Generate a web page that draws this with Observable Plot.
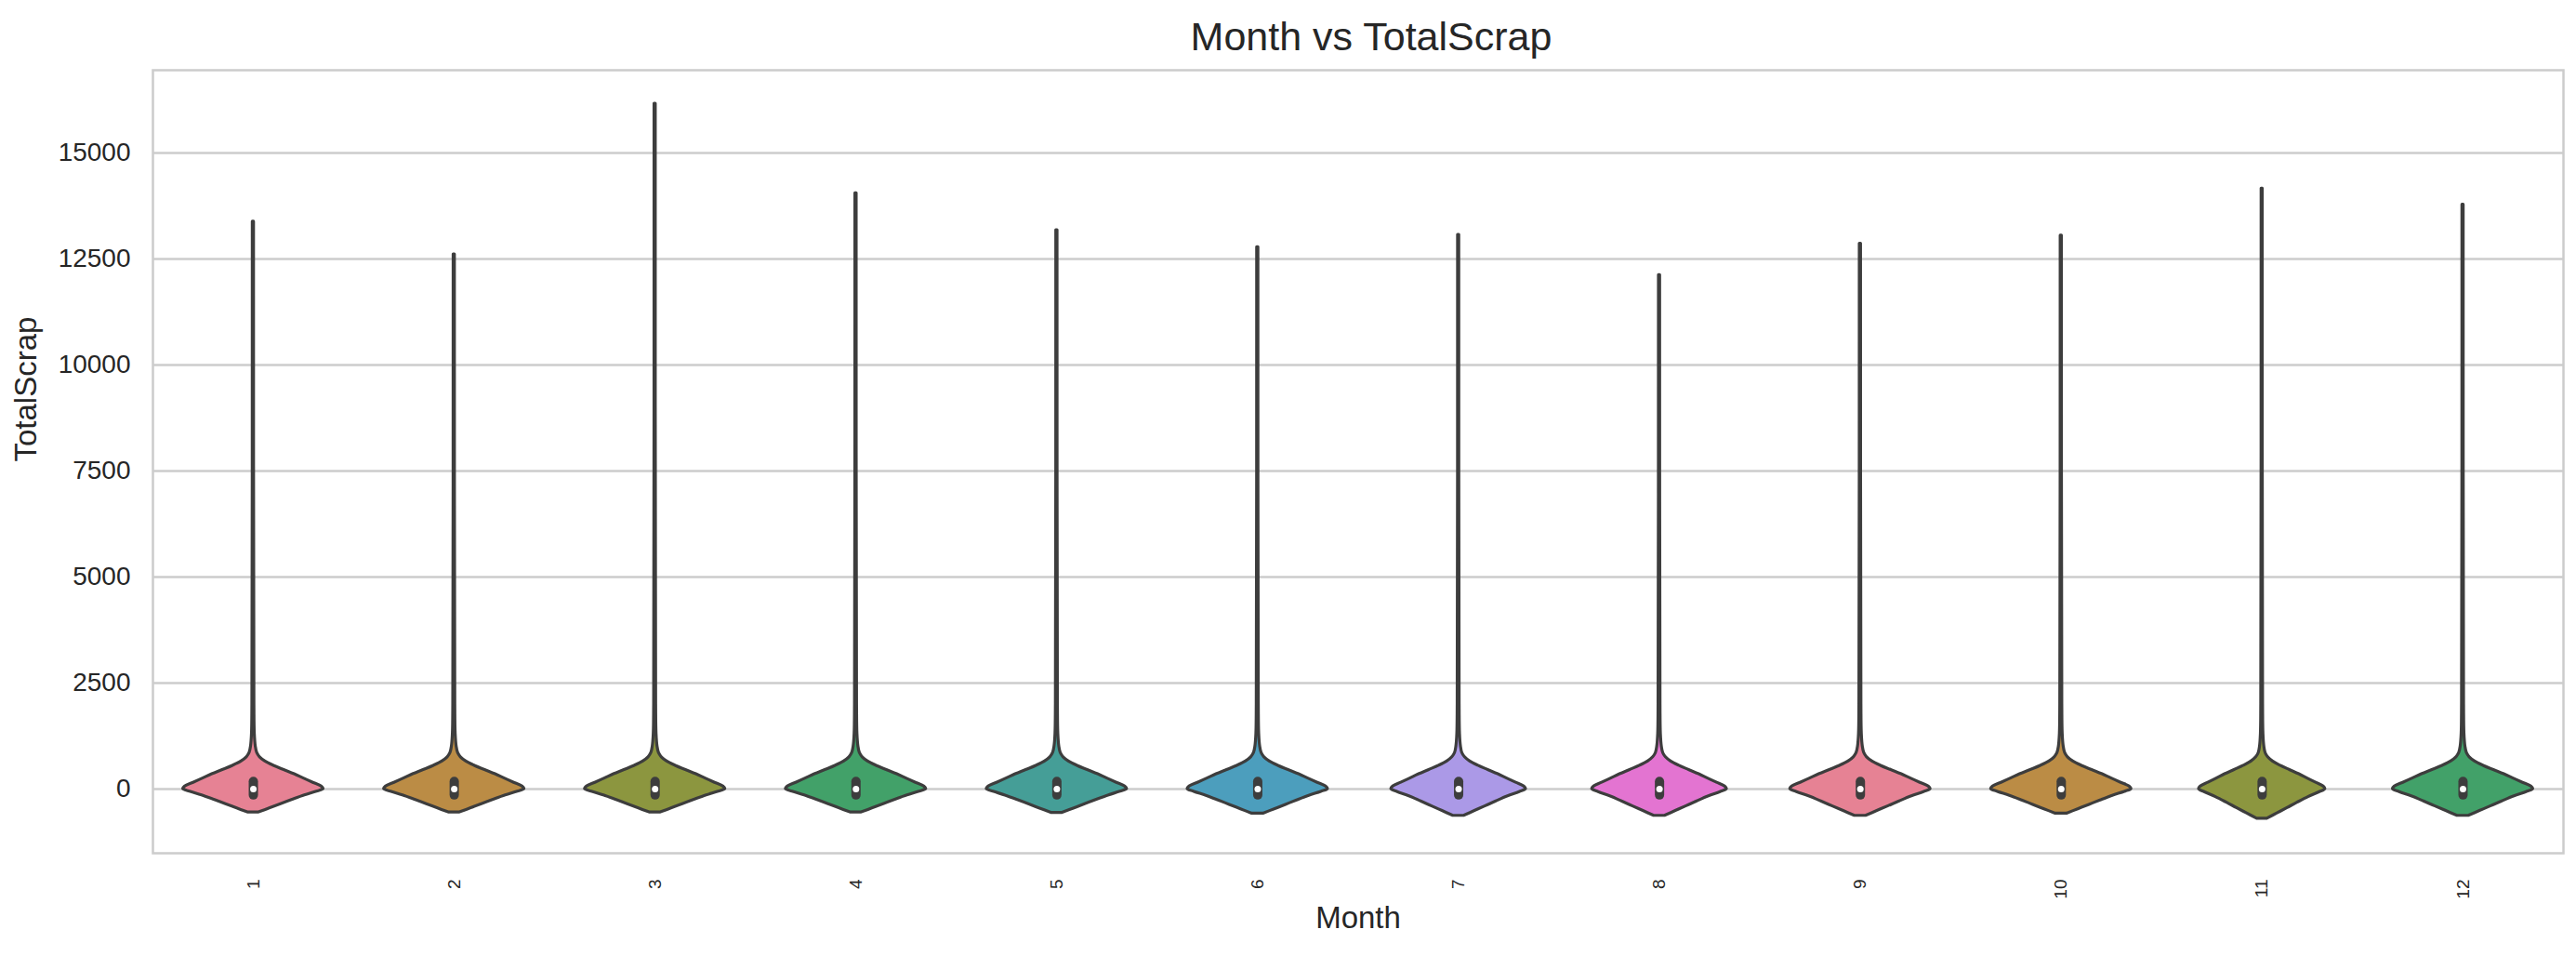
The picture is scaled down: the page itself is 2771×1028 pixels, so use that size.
<!DOCTYPE html>
<html><head><meta charset="utf-8">
<script src="https://cdn.jsdelivr.net/npm/d3@7"></script>
<script src="https://cdn.jsdelivr.net/npm/@observablehq/plot@0.6"></script>
<style>
  html, body { margin: 0; padding: 0; background: #ffffff; }
  #title { box-sizing: border-box; height: 62px; padding-top: 16px; line-height: 46px; text-align: center;
           font-family: "Liberation Sans", Arial, sans-serif; font-size: 43px; color: #262626; width: 2771px;
           padding-left: 179px; white-space: nowrap; }
</style>
</head><body>
<div id="title">Month vs TotalScrap</div>
<div id="chart"></div>
<script>
// ---- data ----
const months = [1, 2, 3, 4, 5, 6, 7, 8, 9, 10, 11, 12];
const maxScrap = [13380, 12610, 16160, 14050, 13180, 12780, 13070, 12120, 12860, 13050, 14160, 13780];
const minScrap = [-550, -550, -550, -550, -560, -580, -630, -630, -630, -580, -700, -630];
const q1Scrap = [-150, -150, -150, -150, -150, -150, -150, -150, -150, -150, -150, -150];
const q3Scrap = [170, 170, 170, 170, 170, 170, 170, 170, 170, 170, 170, 170];
const medianScrap = [0, 0, 0, 0, 0, 0, 0, 0, 0, 0, 0, 0];
const widthScale = [1, 1, 1, 1, 1, 1, 0.96, 0.96, 1, 1, 0.9, 1];
const lowerFrac = [1, 0.82, 0.64, 0.46, 0.27, 0.11];
const lowerWidth = [0.028, 0.084, 0.14, 0.195, 0.256, 0.316];
// upper part: value and half width (in band units)
const upperValue = [0, 60, 150, 250, 350, 450, 550, 650, 750, 850, 1000, 1300, 2000];
const upperWidth = [0.349, 0.34, 0.298, 0.251, 0.205, 0.153, 0.102, 0.06, 0.033, 0.019, 0.012, 0.007, 0.005];
const tipWidth = 0.003;
const yTicks = [0, 2500, 5000, 7500, 10000, 12500, 15000];
const xLabel = "Month";
const yLabel = "TotalScrap";
const huslPalette = ["#f77189", "#ce9032", "#97a431", "#32b166", "#36ada4", "#39a7d0", "#a48cf4", "#f561dd"];

// ---- build tables ----
const violinRows = [];
months.forEach((m, i) => {
  const pts = [];
  lowerFrac.forEach((f, k) => pts.push([f * minScrap[i], lowerWidth[k]]));
  upperValue.forEach((v, k) => pts.push([v, upperWidth[k]]));
  pts.push([maxScrap[i], tipWidth]);
  pts.forEach(([v, w]) => violinRows.push({month: m, value: v, xl: m - w * widthScale[i], xr: m + w * widthScale[i]}));
});
const boxRows = months.map((m, i) => ({month: m, q1: q1Scrap[i], q3: q3Scrap[i], median: medianScrap[i]}));
const monthColors = months.map((m, i) => {
  const c = d3.hsl(huslPalette[i % huslPalette.length]);
  c.s *= 0.75;
  return c.formatHex();
});

const outline = "#3d3d3d";
const chart = Plot.plot({
  width: 2771,
  height: 966,
  marginTop: 13,
  marginBottom: 111,
  marginLeft: 164,
  marginRight: 14,
  style: {fontFamily: "'Liberation Sans', Arial, sans-serif", color: "#262626", background: "#ffffff"},
  x: {type: "linear", domain: [0.5, 12.5]},
  y: {domain: [-1513, 16952]},
  color: {type: "ordinal", domain: months, range: monthColors},
  marks: [
    Plot.gridY(yTicks, {stroke: "#cccccc", strokeOpacity: 1, strokeWidth: 2.5}),
    Plot.frame({stroke: "#cccccc", strokeWidth: 2.5}),
    Plot.axisY(yTicks, {tickSize: 0, tickPadding: 24, fontSize: 28, tickFormat: d => String(d), label: null}),
    Plot.axisX(months, {tickSize: 0, tickPadding: 28, tickRotate: -90, fontSize: 19, tickFormat: d => String(d), label: null}),
    Plot.text([yLabel], {frameAnchor: "left", rotate: -90, dx: -136, fontSize: 33, fill: "#262626"}),
    Plot.text([xLabel], {frameAnchor: "bottom", dy: 80, dx: 0, fontSize: 33, fill: "#262626"}),
    Plot.areaX(violinRows, {y: "value", x1: "xl", x2: "xr", z: "month", fill: "month", stroke: outline, strokeWidth: 3.2, strokeLinejoin: "round", curve: "catmull-rom"}),
    Plot.ruleX(boxRows, {x: "month", y1: "q1", y2: "q3", stroke: outline, strokeWidth: 10, strokeLinecap: "round"}),
    Plot.dot(boxRows, {x: "month", y: "median", r: 3.5, fill: "white", stroke: null})
  ]
});
document.getElementById("chart").appendChild(chart);
</script>
</body></html>
